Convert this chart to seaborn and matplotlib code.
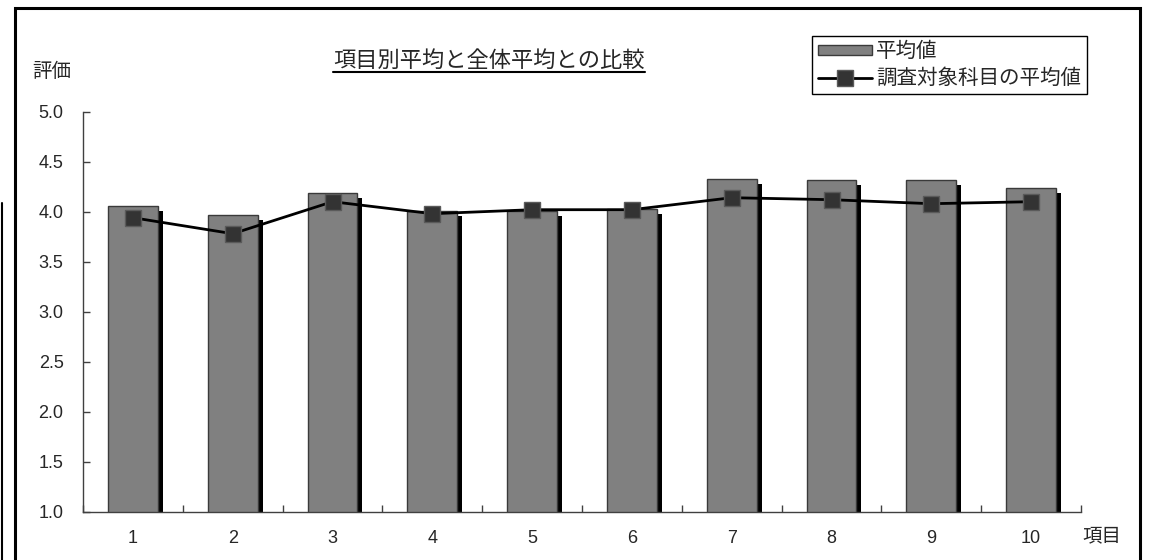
import numpy as np
import pandas as pd
import matplotlib
matplotlib.use("Agg")
import matplotlib.pyplot as plt
import matplotlib.patheffects as pe
from matplotlib.lines import Line2D
from matplotlib.patches import Rectangle, Patch
import seaborn as sns

# Data
items = ["1", "2", "3", "4", "5", "6", "7", "8", "9", "10"]
overall_avg = [4.06, 3.97, 4.19, 4.01, 4.01, 4.03, 4.33, 4.32, 4.32, 4.24]
subject_avg = [3.94, 3.78, 4.10, 3.98, 4.02, 4.02, 4.14, 4.12, 4.08, 4.10]
y_ticks = [1.0, 1.5, 2.0, 2.5, 3.0, 3.5, 4.0, 4.5, 5.0]

sns.set_style("white")
plt.rcParams['font.family'] = ['Liberation Sans', 'Noto Sans CJK JP']

df = pd.DataFrame({"item": items, "overall": overall_avg, "subject": subject_avg})
df["pos"] = np.arange(len(items))

W, H = 1149, 560
fig = plt.figure(figsize=(W / 100, H / 100), dpi=100)
ax = fig.add_axes([83 / W, 48.3 / H, (1081 - 83) / W, (511.7 - 111.7) / H])

bar_color = "#808080"
bar_edge = "#3a3a3a"

# bars with a black drop shadow
sns.barplot(data=df, x="item", y="overall", color=bar_color, saturation=1,
            width=0.5, edgecolor=bar_edge, linewidth=1, ax=ax)
for bar in ax.patches:
    bar.set_path_effects([pe.SimplePatchShadow(offset=(3.6, -3.6), shadow_rgbFace="black", alpha=1.0),
                          pe.Normal()])

# subject average line
line_kw = dict(color="black", linewidth=2, marker="s", markersize=11,
               markerfacecolor="#333333", markeredgecolor="#5a5a5a", markeredgewidth=1)
sns.lineplot(data=df, x="pos", y="subject", ax=ax, legend=False, **line_kw)

ax.set_xlim(-0.5, len(items) - 0.5)
ax.set_ylim(1.0, 5.0)
ax.set_yticks(y_ticks)
ax.set_yticklabels([f"{v:.1f}" for v in y_ticks])
ax.set_xticks(df["pos"])
ax.set_xticklabels(items)
ax.set_xticks(np.arange(len(items) + 1) - 0.5, minor=True)
ax.tick_params(axis="y", direction="in", length=5, width=1, color="#404040",
               pad=14, labelsize=13, left=True)
ax.tick_params(axis="x", which="major", length=0, pad=13, labelsize=13)
ax.tick_params(axis="x", which="minor", direction="in", length=5, width=1,
               color="#404040", bottom=True)
ax.set_xlabel("")
ax.set_ylabel("")
for side in ["top", "right"]:
    ax.spines[side].set_visible(False)
for side in ["left", "bottom"]:
    ax.spines[side].set_color("#404040")
    ax.spines[side].set_linewidth(1)

# legend
handles = [Patch(facecolor=bar_color, edgecolor=bar_edge, linewidth=1),
           Line2D([], [], **line_kw)]
labels = ["平均値", "調査対象科目の平均値"]
leg = ax.legend(handles, labels, loc="upper right",
                bbox_to_anchor=(1087 / W, 1 - 36 / H), bbox_transform=fig.transFigure,
                fontsize=14.8, frameon=True, fancybox=False, framealpha=1,
                edgecolor="black", borderpad=0.3, labelspacing=0.35,
                handlelength=2.6, handleheight=0.4, handletextpad=0.2,
                borderaxespad=0)
leg.get_frame().set_linewidth(1)

# titles and axis names
title = fig.text(489 / W, 1 - 61 / H, "項目別平均と全体平均との比較",
                 ha="center", va="center", fontsize=16)
fig.text(52 / W, 1 - 72 / H, "評価", ha="center", va="center", fontsize=14)
fig.text(1102 / W, 1 - 537 / H, "項目", ha="center", va="center", fontsize=14)

# underline the title
fig.canvas.draw()
bb = title.get_window_extent(fig.canvas.get_renderer())
fig.add_artist(Line2D([bb.x0 / W, bb.x1 / W], [(H - 72) / H] * 2,
                      color="black", linewidth=1.5, transform=fig.transFigure))

# outer frame
fig.add_artist(Rectangle((15 / W, -0.05), (1140 - 15) / W, 1.05 - 8 / H,
                         transform=fig.transFigure, fill=False,
                         edgecolor="black", linewidth=2.2))
fig.add_artist(Line2D([1.5 / W, 1.5 / W], [0, 1 - 203 / H], color="black",
                      linewidth=1.5, transform=fig.transFigure))

fig.savefig("out.png", dpi=100)
